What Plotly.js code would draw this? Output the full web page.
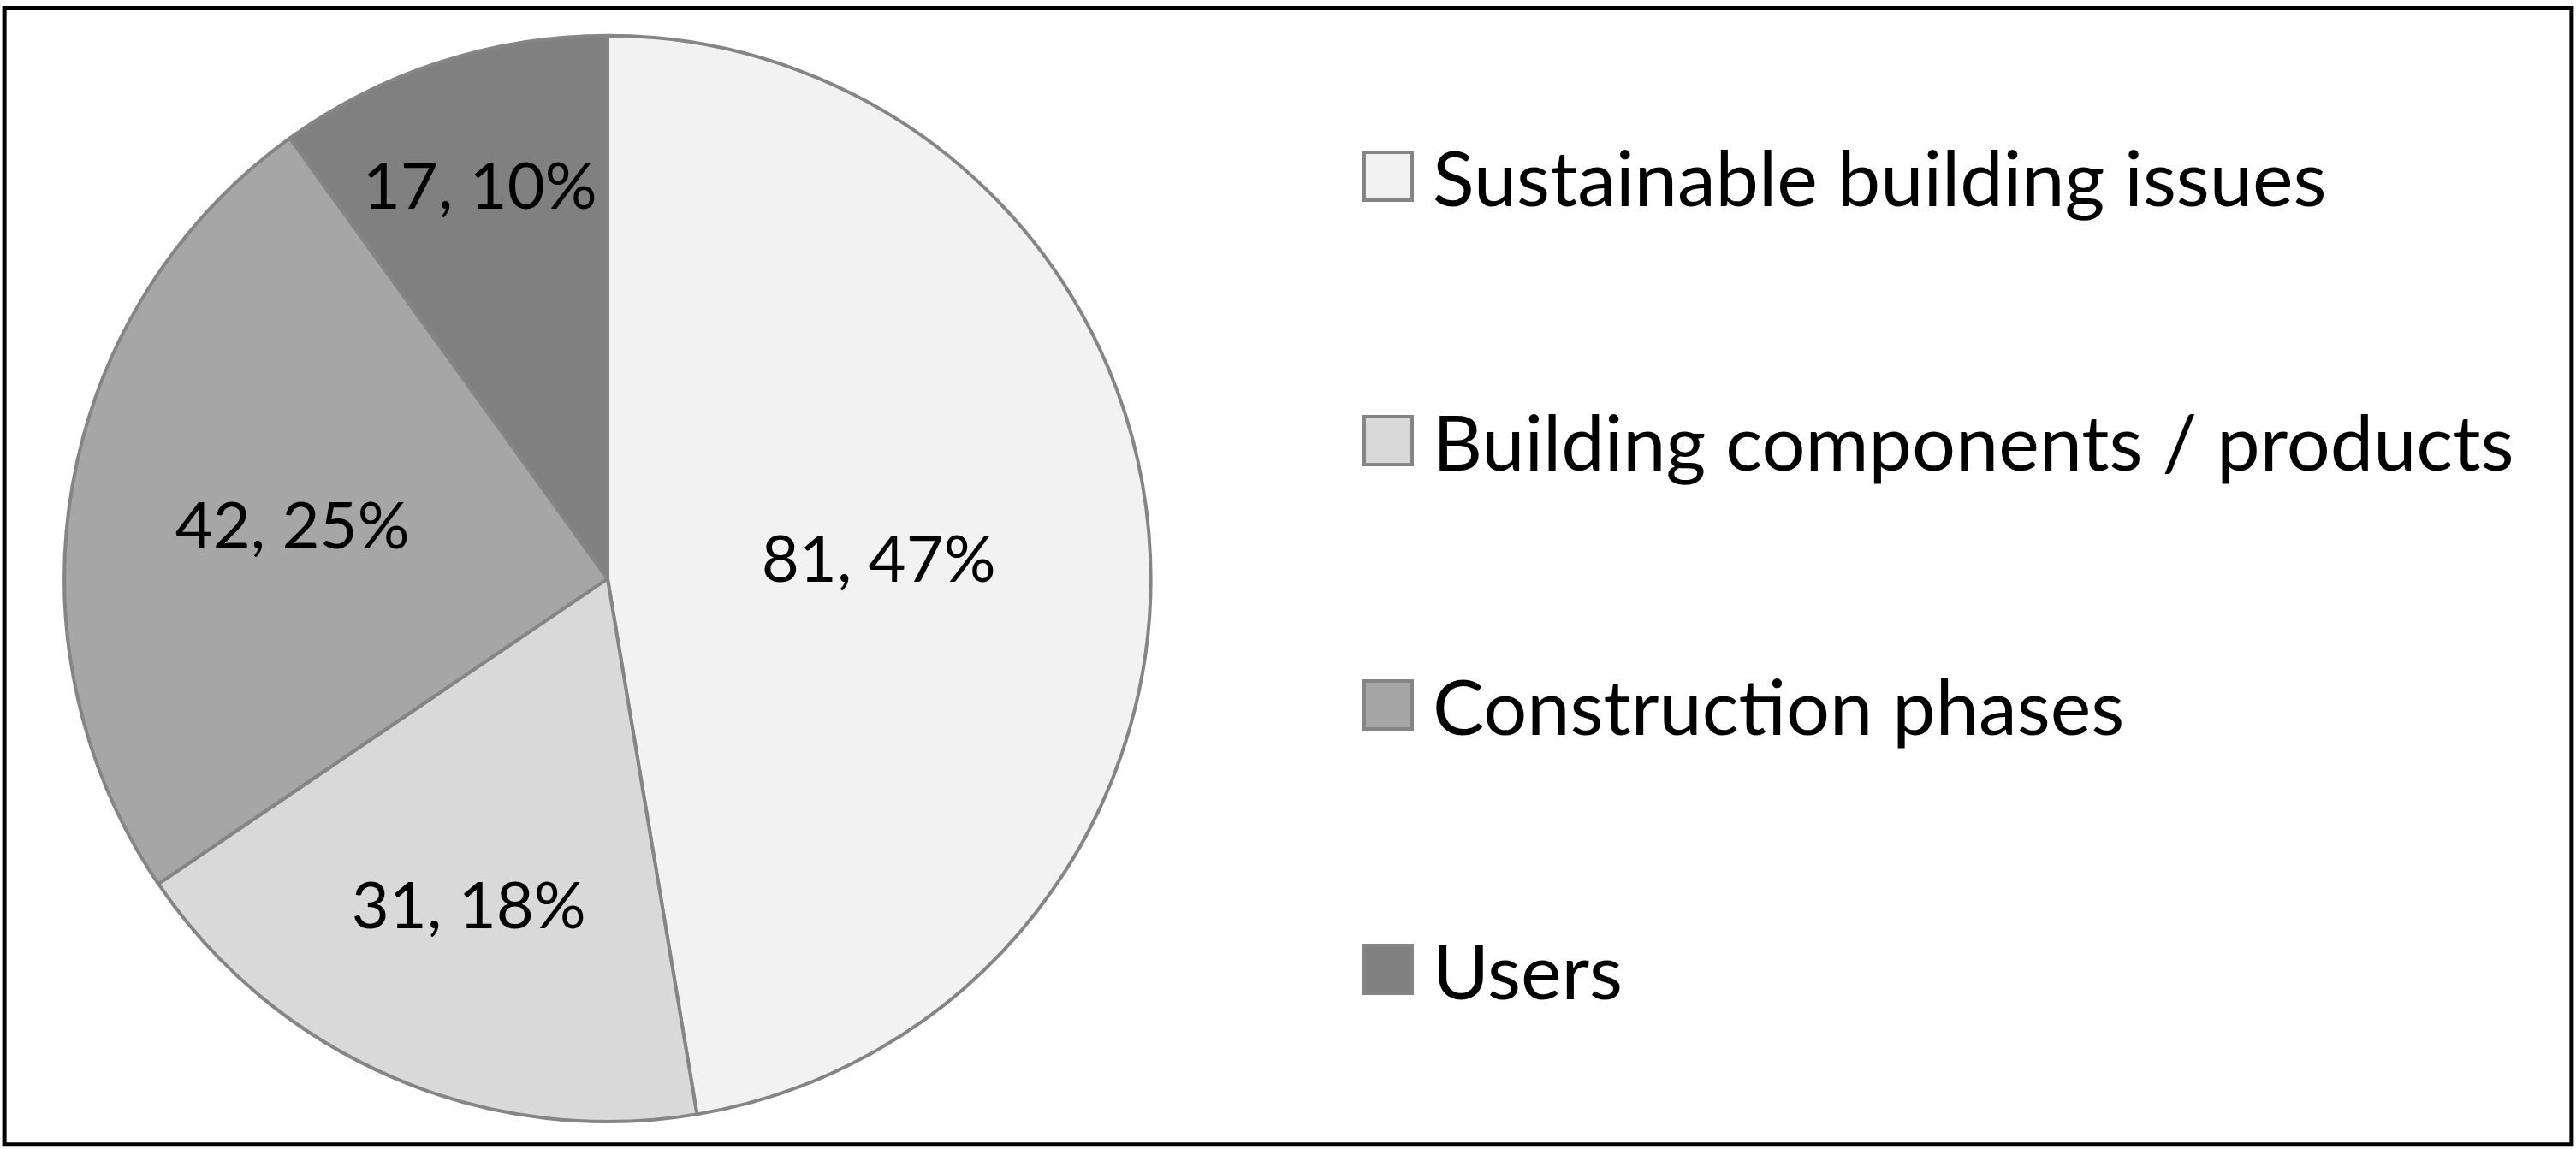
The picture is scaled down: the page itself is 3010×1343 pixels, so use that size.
<!DOCTYPE html>
<html>
<head>
<meta charset="utf-8">
<script src="https://cdn.plot.ly/plotly-3.0.1.min.js"></script>
<style>
  html, body { margin: 0; padding: 0; background: #fff; }
  #chart { width: 3010px; height: 1343px; }
</style>
</head>
<body>
<div id="chart"></div>
<script>
const categories = ["Sustainable building issues", "Building components / products", "Construction phases", "Users"];
const counts = [81, 31, 42, 17];
const sliceColors = ["#f2f2f2", "#d9d9d9", "#a6a6a6", "#808080"];

const fontFamily = "Lato, 'Open Sans', sans-serif";

const data = [
    {
        type: "pie",
        labels: categories,
        values: counts,
        sort: false,
        direction: "clockwise",
        rotation: 0,
        marker: { colors: sliceColors, line: { color: "#858585", width: 4 } },
        texttemplate: "%{value}, %{percent:.0%}",
        textposition: "inside",
        insidetextorientation: "horizontal",
        textfont: { family: fontFamily, size: 76, color: "#000" },
        domain: { x: [0.0249, 0.4468], y: [0.0238, 0.969] },
        showlegend: false,
        hoverinfo: "label+value+percent"
    }
];

// hand-built legend: big square swatches like the original
const legendShapes = [];
const legendNotes = [];
const W = 3010, H = 1343;
categories.forEach((name, i) => {
    const cy = 206 + i * 309;
    legendShapes.push({
        type: "rect", xref: "paper", yref: "paper",
        x0: 1594 / W, x1: 1650 / W,
        y0: 1 - (cy + 28) / H, y1: 1 - (cy - 28) / H,
        fillcolor: sliceColors[i],
        line: { color: "#858585", width: 4 }
    });
    legendNotes.push({
        xref: "paper", yref: "paper",
        x: 1672 / W, y: 1 - cy / H,
        xanchor: "left", yanchor: "middle",
        text: name, showarrow: false,
        font: { family: fontFamily, size: 90, color: "#000" }
    });
});

// outer frame
legendShapes.push({
    type: "rect", xref: "paper", yref: "paper",
    x0: 0.0017, x1: 0.9983, y0: 0.004, y1: 0.993,
    line: { color: "#000", width: 5 }
});

const layout = {
    width: W,
    height: H,
    margin: { l: 0, r: 0, t: 0, b: 0 },
    paper_bgcolor: "#fff",
    showlegend: false,
    shapes: legendShapes,
    annotations: legendNotes
};

Plotly.newPlot("chart", data, layout, { displayModeBar: false });
</script>
</body>
</html>
